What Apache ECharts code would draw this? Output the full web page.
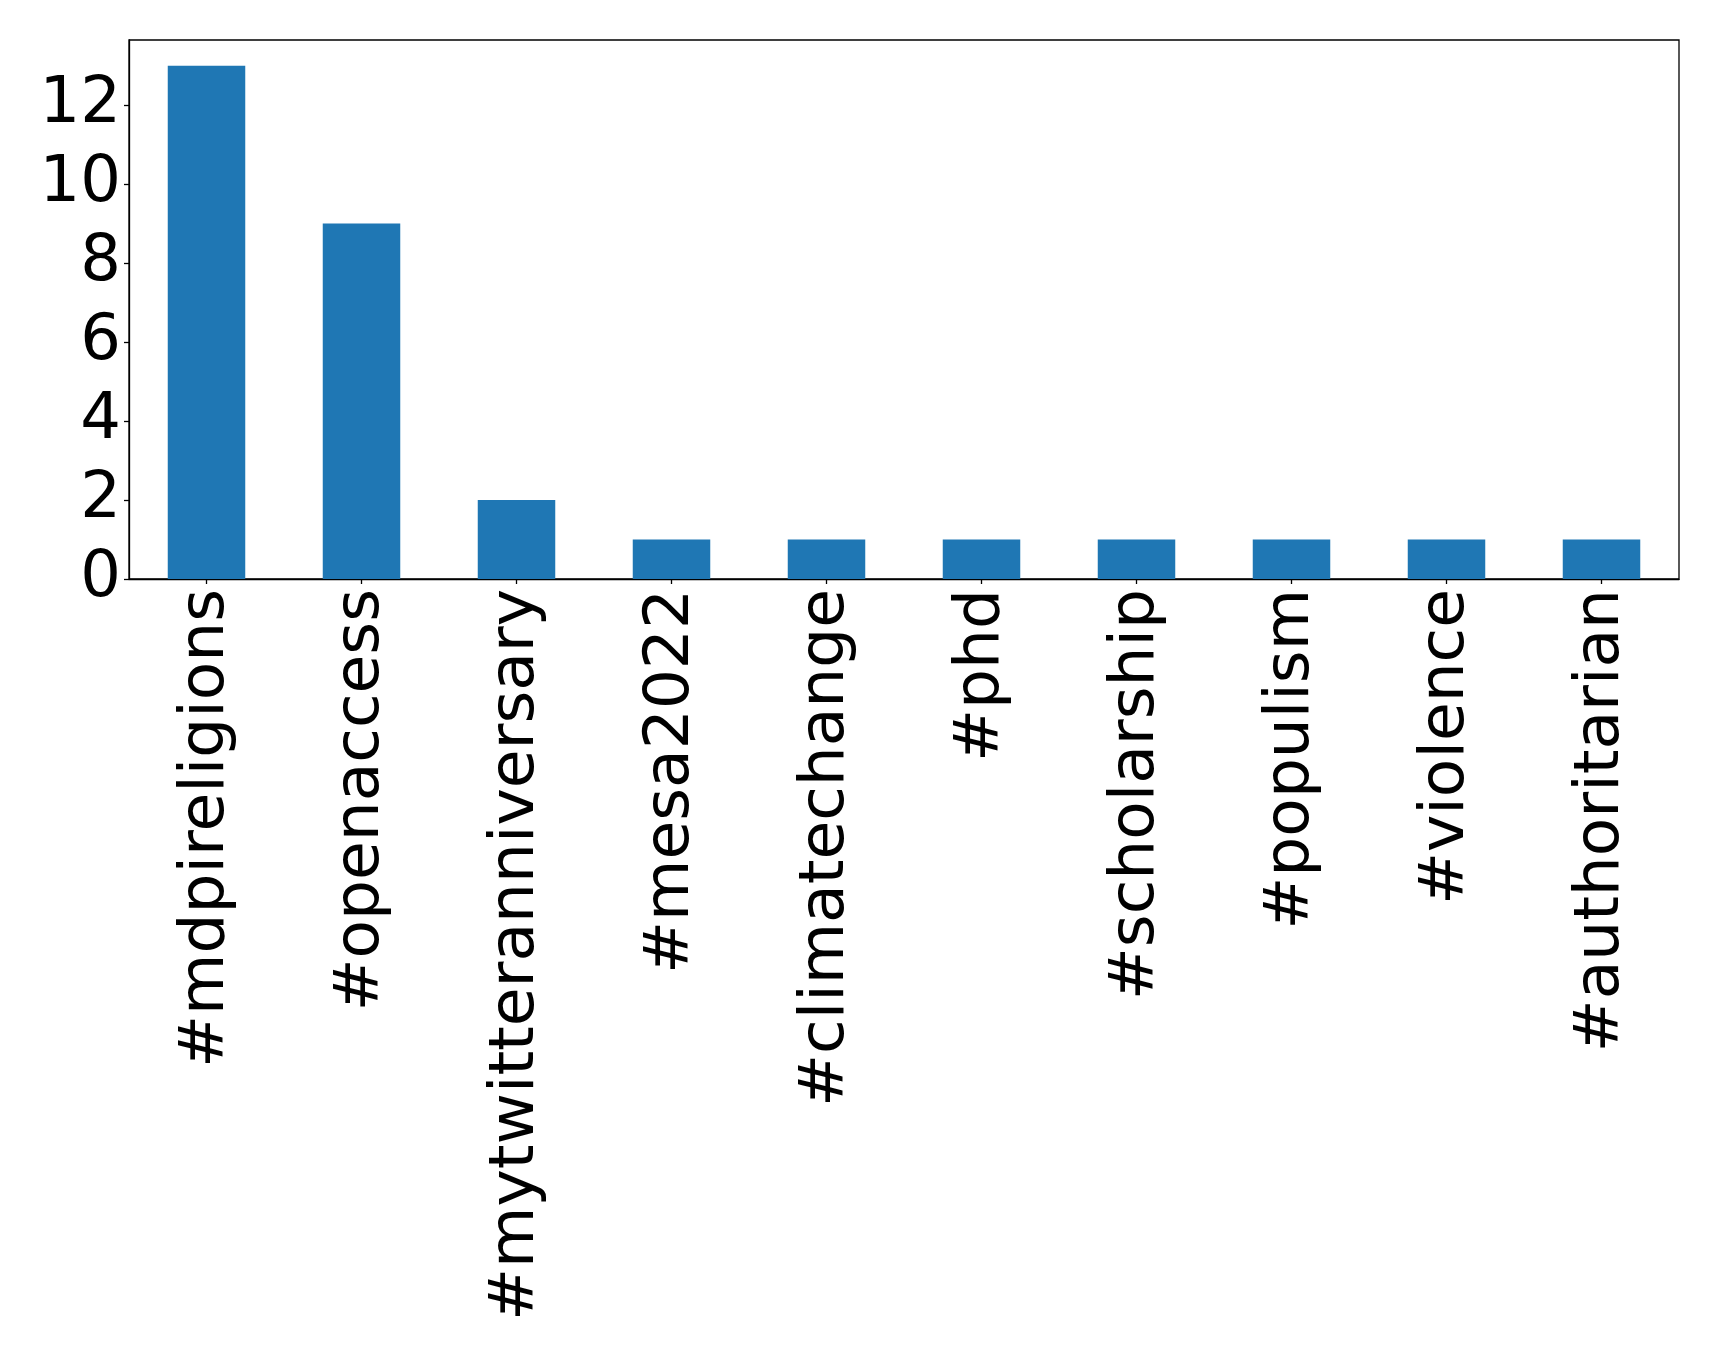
<!DOCTYPE html>
<html><head><meta charset="utf-8">
<script src="https://cdn.jsdelivr.net/npm/echarts@6/dist/echarts.min.js"></script>
<style>html,body{margin:0;padding:0;background:#fff}#c{width:1719px;height:1354px}</style>
</head><body><div id="c"></div>
<script>
const categories = ['#mdpireligions','#openaccess','#mytwitteranniversary','#mesa2022','#climatechange','#phd','#scholarship','#populism','#violence','#authoritarian'];
const counts = [13, 9, 2, 1, 1, 1, 1, 1, 1, 1];
const yTicks = [0, 2, 4, 6, 8, 10, 12];

const chart = echarts.init(document.getElementById('c'));
chart.setOption({
  animation: false,
  backgroundColor: '#fff',
  textStyle: { fontFamily: 'DejaVu Sans' },
  grid: { left: 129, top: 40, right: 40, bottom: 775, show: true, borderColor: '#000', borderWidth: 1.3, containLabel: false },
  xAxis: {
    type: 'category', data: categories, boundaryGap: true,
    axisLine: { show: true, lineStyle: { color: '#000', width: 1.3 } },
    axisTick: { show: true, alignWithLabel: true, length: 5, lineStyle: { color: '#000', width: 1.3 } },
    axisLabel: { rotate: 90, interval: 0, margin: 10, fontSize: 63, color: '#000', fontFamily: 'DejaVu Sans', padding: [11, 0, 0, 0] }
  },
  yAxis: {
    type: 'value', min: 0, max: 13.65,
    splitLine: { show: false },
    axisLine: { show: true, lineStyle: { color: '#000', width: 1.3 } },
    axisTick: { show: true, length: 5, lineStyle: { color: '#000', width: 1.3 }, customValues: yTicks },
    axisLabel: { margin: 8, fontSize: 64, color: '#000', fontFamily: 'DejaVu Sans', customValues: yTicks }
  },
  series: [{ type: 'bar', data: counts, barWidth: '50%', itemStyle: { color: '#1f77b4' } }]
});
</script></body></html>
